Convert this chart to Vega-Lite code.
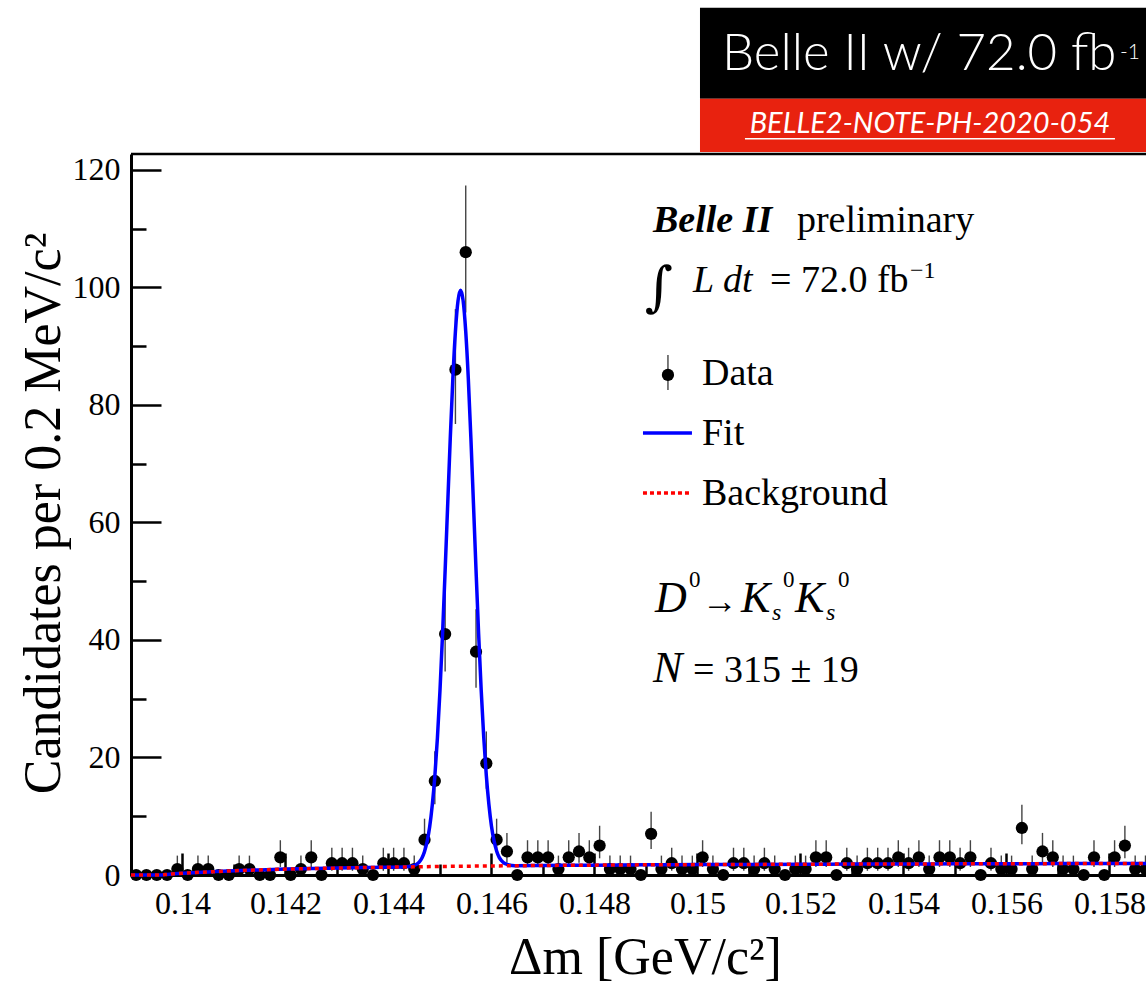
{
  "$schema": "https://vega.github.io/schema/vega-lite/v6.json",
  "width": 1015,
  "height": 721,
  "autosize": {"type": "none"},
  "padding": {"left": 131, "top": 154, "right": 0, "bottom": 109},
  "background": "white",
  "config": {"view": {"stroke": null}},
  "datasets": {
    "pts": [
      {"x":0.1391,"y":0,"lo":0,"hi":0},{"x":0.1393,"y":0,"lo":0,"hi":0},{"x":0.1395,"y":0,"lo":0,"hi":0},{"x":0.1397,"y":0,"lo":0,"hi":0},
      {"x":0.1399,"y":1,"lo":0.173,"hi":3.3},{"x":0.1401,"y":0,"lo":0,"hi":0},{"x":0.1403,"y":1,"lo":0.173,"hi":3.3},{"x":0.1405,"y":1,"lo":0.173,"hi":3.3},
      {"x":0.1407,"y":0,"lo":0,"hi":0},{"x":0.1409,"y":0,"lo":0,"hi":0},{"x":0.1411,"y":1,"lo":0.173,"hi":3.3},{"x":0.1413,"y":1,"lo":0.173,"hi":3.3},
      {"x":0.1415,"y":0,"lo":0,"hi":0},{"x":0.1417,"y":0,"lo":0,"hi":0},{"x":0.1419,"y":3,"lo":1.367,"hi":5.918},{"x":0.1421,"y":0,"lo":0,"hi":0},
      {"x":0.1423,"y":1,"lo":0.173,"hi":3.3},{"x":0.1425,"y":3,"lo":1.367,"hi":5.918},{"x":0.1427,"y":0,"lo":0,"hi":0},{"x":0.1429,"y":2,"lo":0.708,"hi":4.638},
      {"x":0.1431,"y":2,"lo":0.708,"hi":4.638},{"x":0.1433,"y":2,"lo":0.708,"hi":4.638},{"x":0.1435,"y":1,"lo":0.173,"hi":3.3},{"x":0.1437,"y":0,"lo":0,"hi":0},
      {"x":0.1439,"y":2,"lo":0.708,"hi":4.638},{"x":0.1441,"y":2,"lo":0.708,"hi":4.638},{"x":0.1443,"y":2,"lo":0.708,"hi":4.638},{"x":0.1445,"y":1,"lo":0.173,"hi":3.3},
      {"x":0.1447,"y":6,"lo":3.62,"hi":9.584},{"x":0.1449,"y":16,"lo":12.05,"hi":21.08},{"x":0.1451,"y":41,"lo":34.63,"hi":48.45},{"x":0.1453,"y":86,"lo":76.75,"hi":96.31},
      {"x":0.1455,"y":106,"lo":95.72,"hi":117.33},{"x":0.1457,"y":38,"lo":31.87,"hi":45.22},{"x":0.1459,"y":19,"lo":14.68,"hi":24.43},{"x":0.1461,"y":6,"lo":3.62,"hi":9.584},
      {"x":0.1463,"y":4,"lo":2.086,"hi":7.163},{"x":0.1465,"y":0,"lo":0,"hi":0},{"x":0.1467,"y":3,"lo":1.367,"hi":5.918},{"x":0.1469,"y":3,"lo":1.367,"hi":5.918},
      {"x":0.1471,"y":3,"lo":1.367,"hi":5.918},{"x":0.1473,"y":1,"lo":0.173,"hi":3.3},{"x":0.1475,"y":3,"lo":1.367,"hi":5.918},{"x":0.1477,"y":4,"lo":2.086,"hi":7.163},
      {"x":0.1479,"y":3,"lo":1.367,"hi":5.918},{"x":0.1481,"y":5,"lo":2.84,"hi":8.382},{"x":0.1483,"y":1,"lo":0.173,"hi":3.3},{"x":0.1485,"y":1,"lo":0.173,"hi":3.3},
      {"x":0.1487,"y":1,"lo":0.173,"hi":3.3},{"x":0.1489,"y":0,"lo":0,"hi":0},{"x":0.1491,"y":7,"lo":4.419,"hi":10.77},{"x":0.1493,"y":1,"lo":0.173,"hi":3.3},
      {"x":0.1495,"y":2,"lo":0.708,"hi":4.638},{"x":0.1497,"y":1,"lo":0.173,"hi":3.3},{"x":0.1499,"y":1,"lo":0.173,"hi":3.3},{"x":0.1501,"y":3,"lo":1.367,"hi":5.918},
      {"x":0.1503,"y":1,"lo":0.173,"hi":3.3},{"x":0.1505,"y":0,"lo":0,"hi":0},{"x":0.1507,"y":2,"lo":0.708,"hi":4.638},{"x":0.1509,"y":2,"lo":0.708,"hi":4.638},
      {"x":0.1511,"y":1,"lo":0.173,"hi":3.3},{"x":0.1513,"y":2,"lo":0.708,"hi":4.638},{"x":0.1515,"y":1,"lo":0.173,"hi":3.3},{"x":0.1517,"y":0,"lo":0,"hi":0},
      {"x":0.1519,"y":1,"lo":0.173,"hi":3.3},{"x":0.1521,"y":1,"lo":0.173,"hi":3.3},{"x":0.1523,"y":3,"lo":1.367,"hi":5.918},{"x":0.1525,"y":3,"lo":1.367,"hi":5.918},
      {"x":0.1527,"y":0,"lo":0,"hi":0},{"x":0.1529,"y":2,"lo":0.708,"hi":4.638},{"x":0.1531,"y":1,"lo":0.173,"hi":3.3},{"x":0.1533,"y":2,"lo":0.708,"hi":4.638},
      {"x":0.1535,"y":2,"lo":0.708,"hi":4.638},{"x":0.1537,"y":2,"lo":0.708,"hi":4.638},{"x":0.1539,"y":3,"lo":1.367,"hi":5.918},{"x":0.1541,"y":2,"lo":0.708,"hi":4.638},
      {"x":0.1543,"y":3,"lo":1.367,"hi":5.918},{"x":0.1545,"y":1,"lo":0.173,"hi":3.3},{"x":0.1547,"y":3,"lo":1.367,"hi":5.918},{"x":0.1549,"y":3,"lo":1.367,"hi":5.918},
      {"x":0.1551,"y":2,"lo":0.708,"hi":4.638},{"x":0.1553,"y":3,"lo":1.367,"hi":5.918},{"x":0.1555,"y":0,"lo":0,"hi":0},{"x":0.1557,"y":2,"lo":0.708,"hi":4.638},
      {"x":0.1559,"y":1,"lo":0.173,"hi":3.3},{"x":0.1561,"y":1,"lo":0.173,"hi":3.3},{"x":0.1563,"y":8,"lo":5.232,"hi":11.95},{"x":0.1565,"y":1,"lo":0.173,"hi":3.3},
      {"x":0.1567,"y":4,"lo":2.086,"hi":7.163},{"x":0.1569,"y":3,"lo":1.367,"hi":5.918},{"x":0.1571,"y":1,"lo":0.173,"hi":3.3},{"x":0.1573,"y":1,"lo":0.173,"hi":3.3},
      {"x":0.1575,"y":0,"lo":0,"hi":0},{"x":0.1577,"y":3,"lo":1.367,"hi":5.918},{"x":0.1579,"y":0,"lo":0,"hi":0},{"x":0.1581,"y":3,"lo":1.367,"hi":5.918},
      {"x":0.1583,"y":5,"lo":2.84,"hi":8.382},{"x":0.1585,"y":1,"lo":0.173,"hi":3.3},{"x":0.1587,"y":1,"lo":0.173,"hi":3.3}
    ],
    "bkg": [
      {"x":0.139,"y":0},{"x":0.1395,"y":0},{"x":0.1396,"y":0.02},{"x":0.1397,"y":0.1},{"x":0.1398,"y":0.17},{"x":0.14,"y":0.3},
      {"x":0.1402,"y":0.4},{"x":0.1405,"y":0.52},{"x":0.141,"y":0.72},{"x":0.1415,"y":0.87},{"x":0.142,"y":1.0},{"x":0.1425,"y":1.1},
      {"x":0.143,"y":1.18},{"x":0.1435,"y":1.26},{"x":0.144,"y":1.33},{"x":0.1445,"y":1.39},{"x":0.145,"y":1.45},{"x":0.1455,"y":1.5},
      {"x":0.146,"y":1.54},{"x":0.1465,"y":1.58},{"x":0.147,"y":1.62},{"x":0.148,"y":1.68},{"x":0.149,"y":1.73},{"x":0.15,"y":1.77},
      {"x":0.151,"y":1.8},{"x":0.152,"y":1.83},{"x":0.153,"y":1.86},{"x":0.154,"y":1.88},{"x":0.155,"y":1.9},{"x":0.156,"y":1.92},
      {"x":0.157,"y":1.94},{"x":0.158,"y":1.96},{"x":0.15871,"y":1.97}
    ],
    "fit": [
      {"x":0.139,"y":0},{"x":0.1395,"y":0},{"x":0.1396,"y":0.02},{"x":0.1397,"y":0.1},{"x":0.1398,"y":0.17},{"x":0.14,"y":0.3},
      {"x":0.1402,"y":0.4},{"x":0.1405,"y":0.52},{"x":0.141,"y":0.72},{"x":0.1415,"y":0.87},{"x":0.142,"y":1.0},{"x":0.1425,"y":1.1},
      {"x":0.143,"y":1.18},{"x":0.1435,"y":1.26},{"x":0.144,"y":1.33},{"x":0.1443,"y":1.36},{"x":0.1444,"y":1.43},{"x":0.14445,"y":1.5},
      {"x":0.1445,"y":1.63},{"x":0.14455,"y":1.86},{"x":0.1446,"y":2.25},{"x":0.14465,"y":2.9},{"x":0.1447,"y":4.0},{"x":0.14475,"y":5.7},
      {"x":0.1448,"y":8.2},{"x":0.14485,"y":11.9},{"x":0.1449,"y":16.8},{"x":0.14495,"y":23.3},{"x":0.145,"y":31.4},{"x":0.14505,"y":41.0},
      {"x":0.1451,"y":51.8},{"x":0.14515,"y":63.1},{"x":0.1452,"y":74.4},{"x":0.14525,"y":84.5},{"x":0.1453,"y":92.5},{"x":0.14535,"y":97.7},
      {"x":0.1454,"y":99.5},{"x":0.14545,"y":97.7},{"x":0.1455,"y":92.5},{"x":0.14555,"y":84.5},{"x":0.1456,"y":74.4},{"x":0.14565,"y":63.2},
      {"x":0.1457,"y":51.9},{"x":0.14575,"y":41.1},{"x":0.1458,"y":31.5},{"x":0.14585,"y":23.4},{"x":0.1459,"y":16.9},{"x":0.14595,"y":12.0},
      {"x":0.146,"y":8.3},{"x":0.14605,"y":5.8},{"x":0.1461,"y":4.1},{"x":0.14615,"y":3.0},{"x":0.1462,"y":2.4},{"x":0.14625,"y":2.0},
      {"x":0.1463,"y":1.81},{"x":0.14635,"y":1.69},{"x":0.1464,"y":1.63},{"x":0.1465,"y":1.58},{"x":0.147,"y":1.62},{"x":0.148,"y":1.68},
      {"x":0.149,"y":1.73},{"x":0.15,"y":1.77},{"x":0.151,"y":1.8},{"x":0.152,"y":1.83},{"x":0.153,"y":1.86},{"x":0.154,"y":1.88},
      {"x":0.155,"y":1.9},{"x":0.156,"y":1.92},{"x":0.157,"y":1.94},{"x":0.158,"y":1.96},{"x":0.15871,"y":1.97}
    ]
  },
  "layer": [
    {
      "data": {"name": "pts"},
      "mark": {"type": "rule", "color": "#444444", "strokeWidth": 1.4},
      "encoding": {
        "x": {"field": "x", "type": "quantitative"},
        "y": {"field": "lo", "type": "quantitative"},
        "y2": {"field": "hi"}
      }
    },
    {
      "data": {"name": "pts"},
      "mark": {"type": "point", "shape": "circle", "filled": true, "color": "black", "opacity": 1, "size": 150},
      "encoding": {
        "x": {
          "field": "x", "type": "quantitative",
          "scale": {"domain": [0.139, 0.15871], "nice": false, "zero": false},
          "axis": {
            "values": [0.139,0.1395,0.14,0.1405,0.141,0.1415,0.142,0.1425,0.143,0.1435,0.144,0.1445,0.145,0.1455,0.146,0.1465,0.147,0.1475,0.148,0.1485,0.149,0.1495,0.15,0.1505,0.151,0.1515,0.152,0.1525,0.153,0.1535,0.154,0.1545,0.155,0.1555,0.156,0.1565,0.157,0.1575,0.158,0.1585],
            "labelExpr": "abs(datum.value*500 - round(datum.value*500)) < 0.001 ? format(datum.value, '~g') : ''",
            "tickSize": {"condition": {"test": "abs(datum.value*500 - round(datum.value*500)) < 0.001", "value": -22}, "value": -11},
            "tickWidth": 2.5, "tickColor": "black",
            "domainColor": "black", "domainWidth": 3,
            "grid": false, "labelOverlap": false, "labelFlush": false,
            "labelFont": "Liberation Serif", "labelFontSize": 32, "labelColor": "black", "labelPadding": 35,
            "title": "Δm [GeV/c²]",
            "titleFont": "Liberation Serif", "titleFontSize": 52, "titleFontWeight": "normal", "titleColor": "black",
            "titleX": 514, "titleY": 98, "titleAlign": "center", "titleBaseline": "alphabetic"
          }
        },
        "y": {
          "field": "y", "type": "quantitative",
          "scale": {"domain": [0, 122.7], "nice": false},
          "axis": {
            "values": [0,5,10,15,20,25,30,35,40,45,50,55,60,65,70,75,80,85,90,95,100,105,110,115,120],
            "labelExpr": "datum.value % 20 === 0 ? datum.label : ''",
            "tickSize": {"condition": {"test": "datum.value % 20 === 0", "value": -30}, "value": -15},
            "tickWidth": 2.5, "tickColor": "black",
            "domainColor": "black", "domainWidth": 3,
            "grid": false, "labelOverlap": false, "labelFlush": false, "format": "d",
            "labelFont": "Liberation Serif", "labelFontSize": 32, "labelColor": "black", "labelPadding": 41,
            "title": "Candidates per 0.2 MeV/c²",
            "titleFont": "Liberation Serif", "titleFontSize": 52, "titleFontWeight": "normal", "titleColor": "black",
            "titleX": -72, "titleY": 359, "titleAngle": -90, "titleAlign": "center", "titleBaseline": "alphabetic"
          }
        }
      }
    },
    {
      "data": {"name": "fit"},
      "mark": {"type": "line", "color": "#0000ff", "strokeWidth": 3.5, "interpolate": "monotone"},
      "encoding": {"x": {"field": "x", "type": "quantitative"}, "y": {"field": "y", "type": "quantitative"}}
    },
    {
      "data": {"name": "bkg"},
      "mark": {"type": "line", "color": "#ff0000", "strokeWidth": 3.5, "strokeDash": [4, 4], "interpolate": "monotone"},
      "encoding": {"x": {"field": "x", "type": "quantitative"}, "y": {"field": "y", "type": "quantitative"}}
    },
    {
      "data": {"values": [{}]},
      "mark": {"type": "rule", "color": "black", "strokeWidth": 2.5},
      "encoding": {"y": {"datum": 122.7, "type": "quantitative"}}
    },
    {
      "data": {"values": [{}]},
      "mark": {"type": "rect", "color": "black"},
      "encoding": {"x": {"datum": 0.150049, "type": "quantitative"}, "x2": {"datum": 0.15871}, "y": {"datum": 147.57, "type": "quantitative"}, "y2": {"datum": 132.09}}
    },
    {
      "data": {"values": [{}]},
      "mark": {"type": "rect", "color": "#e8220f"},
      "encoding": {"x": {"datum": 0.150049, "type": "quantitative"}, "x2": {"datum": 0.15871}, "y": {"datum": 132.09, "type": "quantitative"}, "y2": {"datum": 123.06}}
    },
    {
      "data": {"values": [{}]},
      "mark": {"type": "text", "text": "Belle II w/ 72.0 fb", "font": "Lato", "fontWeight": 300, "fontSize": 51, "color": "white", "align": "left", "baseline": "alphabetic"},
      "encoding": {"x": {"datum": 0.150476, "type": "quantitative"}, "y": {"datum": 137.02, "type": "quantitative"}}
    },
    {
      "data": {"values": [{}]},
      "mark": {"type": "text", "text": "-1", "font": "Lato", "fontWeight": 300, "fontSize": 21, "color": "white", "align": "left", "baseline": "alphabetic"},
      "encoding": {"x": {"datum": 0.158204, "type": "quantitative"}, "y": {"datum": 138.89, "type": "quantitative"}}
    },
    {
      "data": {"values": [{}]},
      "mark": {"type": "text", "text": "BELLE2-NOTE-PH-2020-054", "font": "Lato", "fontStyle": "italic", "fontSize": 29, "color": "white", "align": "center", "baseline": "alphabetic"},
      "encoding": {"x": {"datum": 0.154515, "type": "quantitative"}, "y": {"datum": 126.3, "type": "quantitative"}}
    },
    {
      "data": {"values": [{}]},
      "mark": {"type": "rule", "color": "white", "strokeWidth": 1.5},
      "encoding": {"x": {"datum": 0.150922, "type": "quantitative"}, "x2": {"datum": 0.158107}, "y": {"datum": 125.28, "type": "quantitative"}}
    },
    {
      "data": {"values": [{}]},
      "mark": {"type": "text", "text": "Belle II", "font": "Liberation Serif", "fontStyle": "italic", "fontWeight": "bold", "fontSize": 38, "color": "black", "align": "left", "baseline": "alphabetic"},
      "encoding": {"x": {"datum": 0.149136, "type": "quantitative"}, "y": {"datum": 109.45, "type": "quantitative"}}
    },
    {
      "data": {"values": [{}]},
      "mark": {"type": "text", "text": "preliminary", "font": "Liberation Serif", "fontSize": 38, "color": "black", "align": "left", "baseline": "alphabetic"},
      "encoding": {"x": {"datum": 0.151932, "type": "quantitative"}, "y": {"datum": 109.45, "type": "quantitative"}}
    },
    {
      "data": {"values": [{}]},
      "mark": {"type": "text", "text": "∫", "font": "DejaVu Serif", "fontStyle": "italic", "fontSize": 54, "color": "black", "align": "left", "baseline": "alphabetic"},
      "encoding": {"x": {"datum": 0.148981, "type": "quantitative"}, "y": {"datum": 97.02, "type": "quantitative"}}
    },
    {
      "data": {"values": [{}]},
      "mark": {"type": "text", "text": "L dt", "font": "Liberation Serif", "fontStyle": "italic", "fontSize": 38, "color": "black", "align": "left", "baseline": "alphabetic"},
      "encoding": {"x": {"datum": 0.149913, "type": "quantitative"}, "y": {"datum": 99.23, "type": "quantitative"}}
    },
    {
      "data": {"values": [{}]},
      "mark": {"type": "text", "text": "= 72.0 fb", "font": "Liberation Serif", "fontSize": 38, "color": "black", "align": "left", "baseline": "alphabetic"},
      "encoding": {"x": {"datum": 0.151408, "type": "quantitative"}, "y": {"datum": 99.23, "type": "quantitative"}}
    },
    {
      "data": {"values": [{}]},
      "mark": {"type": "text", "text": "−1", "font": "Liberation Serif", "fontSize": 24, "color": "black", "align": "left", "baseline": "alphabetic"},
      "encoding": {"x": {"datum": 0.154126, "type": "quantitative"}, "y": {"datum": 101.6, "type": "quantitative"}}
    },
    {
      "data": {"values": [{}]},
      "mark": {"type": "rule", "color": "#444444", "strokeWidth": 1.4},
      "encoding": {"x": {"datum": 0.149427, "type": "quantitative"}, "y": {"datum": 82.55, "type": "quantitative"}, "y2": {"datum": 88.51}}
    },
    {
      "data": {"values": [{}]},
      "mark": {"type": "point", "shape": "circle", "filled": true, "color": "black", "opacity": 1, "size": 150},
      "encoding": {"x": {"datum": 0.149427, "type": "quantitative"}, "y": {"datum": 85.11, "type": "quantitative"}}
    },
    {
      "data": {"values": [{}]},
      "mark": {"type": "text", "text": "Data", "font": "Liberation Serif", "fontSize": 38, "color": "black", "align": "left", "baseline": "alphabetic"},
      "encoding": {"x": {"datum": 0.150087, "type": "quantitative"}, "y": {"datum": 83.4, "type": "quantitative"}}
    },
    {
      "data": {"values": [{}]},
      "mark": {"type": "rule", "color": "#0000ff", "strokeWidth": 3.5},
      "encoding": {"x": {"datum": 0.148942, "type": "quantitative"}, "x2": {"datum": 0.149893}, "y": {"datum": 75.23, "type": "quantitative"}}
    },
    {
      "data": {"values": [{}]},
      "mark": {"type": "text", "text": "Fit", "font": "Liberation Serif", "fontSize": 38, "color": "black", "align": "left", "baseline": "alphabetic"},
      "encoding": {"x": {"datum": 0.150087, "type": "quantitative"}, "y": {"datum": 73.19, "type": "quantitative"}}
    },
    {
      "data": {"values": [{}]},
      "mark": {"type": "rule", "color": "#ff0000", "strokeWidth": 3.5, "strokeDash": [4, 3]},
      "encoding": {"x": {"datum": 0.148942, "type": "quantitative"}, "x2": {"datum": 0.149893}, "y": {"datum": 65.02, "type": "quantitative"}}
    },
    {
      "data": {"values": [{}]},
      "mark": {"type": "text", "text": "Background", "font": "Liberation Serif", "fontSize": 38, "color": "black", "align": "left", "baseline": "alphabetic"},
      "encoding": {"x": {"datum": 0.150087, "type": "quantitative"}, "y": {"datum": 62.98, "type": "quantitative"}}
    },
    {
      "data": {"values": [{}]},
      "mark": {"type": "text", "text": "D", "font": "Liberation Serif", "fontStyle": "italic", "fontSize": 44, "color": "black", "align": "left", "baseline": "alphabetic"},
      "encoding": {"x": {"datum": 0.149175, "type": "quantitative"}, "y": {"datum": 44.77, "type": "quantitative"}}
    },
    {
      "data": {"values": [{}]},
      "mark": {"type": "text", "text": "0", "font": "Liberation Serif", "fontSize": 23, "color": "black", "align": "left", "baseline": "alphabetic"},
      "encoding": {"x": {"datum": 0.149835, "type": "quantitative"}, "y": {"datum": 49.02, "type": "quantitative"}}
    },
    {
      "data": {"values": [{}]},
      "mark": {"type": "text", "text": "→", "font": "Liberation Serif", "fontSize": 36, "color": "black", "align": "left", "baseline": "alphabetic"},
      "encoding": {"x": {"datum": 0.150087, "type": "quantitative"}, "y": {"datum": 44.6, "type": "quantitative"}}
    },
    {
      "data": {"values": [{}]},
      "mark": {"type": "text", "text": "K", "font": "Liberation Serif", "fontStyle": "italic", "fontSize": 44, "color": "black", "align": "left", "baseline": "alphabetic"},
      "encoding": {"x": {"datum": 0.150845, "type": "quantitative"}, "y": {"datum": 44.77, "type": "quantitative"}}
    },
    {
      "data": {"values": [{}]},
      "mark": {"type": "text", "text": "s", "font": "Liberation Serif", "fontStyle": "italic", "fontSize": 24, "color": "black", "align": "left", "baseline": "alphabetic"},
      "encoding": {"x": {"datum": 0.151447, "type": "quantitative"}, "y": {"datum": 43.4, "type": "quantitative"}}
    },
    {
      "data": {"values": [{}]},
      "mark": {"type": "text", "text": "0", "font": "Liberation Serif", "fontSize": 23, "color": "black", "align": "left", "baseline": "alphabetic"},
      "encoding": {"x": {"datum": 0.15166, "type": "quantitative"}, "y": {"datum": 49.02, "type": "quantitative"}}
    },
    {
      "data": {"values": [{}]},
      "mark": {"type": "text", "text": "K", "font": "Liberation Serif", "fontStyle": "italic", "fontSize": 44, "color": "black", "align": "left", "baseline": "alphabetic"},
      "encoding": {"x": {"datum": 0.151893, "type": "quantitative"}, "y": {"datum": 44.77, "type": "quantitative"}}
    },
    {
      "data": {"values": [{}]},
      "mark": {"type": "text", "text": "s", "font": "Liberation Serif", "fontStyle": "italic", "fontSize": 24, "color": "black", "align": "left", "baseline": "alphabetic"},
      "encoding": {"x": {"datum": 0.152495, "type": "quantitative"}, "y": {"datum": 43.4, "type": "quantitative"}}
    },
    {
      "data": {"values": [{}]},
      "mark": {"type": "text", "text": "0", "font": "Liberation Serif", "fontSize": 23, "color": "black", "align": "left", "baseline": "alphabetic"},
      "encoding": {"x": {"datum": 0.152728, "type": "quantitative"}, "y": {"datum": 49.02, "type": "quantitative"}}
    },
    {
      "data": {"values": [{}]},
      "mark": {"type": "text", "text": "N", "font": "Liberation Serif", "fontStyle": "italic", "fontSize": 44, "color": "black", "align": "left", "baseline": "alphabetic"},
      "encoding": {"x": {"datum": 0.149136, "type": "quantitative"}, "y": {"datum": 32.85, "type": "quantitative"}}
    },
    {
      "data": {"values": [{}]},
      "mark": {"type": "text", "text": "= 315 ± 19", "font": "Liberation Serif", "fontSize": 38, "color": "black", "align": "left", "baseline": "alphabetic"},
      "encoding": {"x": {"datum": 0.149913, "type": "quantitative"}, "y": {"datum": 32.85, "type": "quantitative"}}
    }
  ]
}
